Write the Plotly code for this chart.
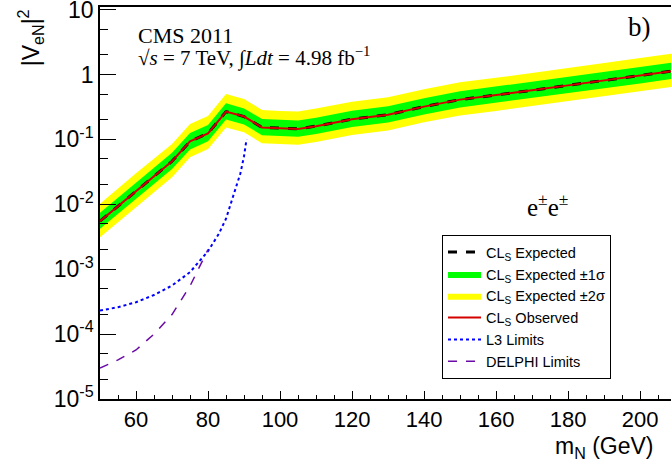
import plotly.graph_objects as go

# ---------------- data ----------------
masses = [50, 60, 70, 75, 80, 85, 90, 95, 100, 105, 110, 120, 130, 140, 150, 160, 170, 180, 190, 200, 210]
expected = [0.0055, 0.016, 0.046, 0.093, 0.124, 0.268, 0.225, 0.153, 0.148, 0.145, 0.16, 0.205, 0.24,
            0.32, 0.41, 0.48, 0.57, 0.68, 0.81, 0.96, 1.15]
observed = [0.0055, 0.016, 0.046, 0.093, 0.124, 0.268, 0.225, 0.153, 0.148, 0.145, 0.16, 0.205, 0.24,
            0.32, 0.41, 0.48, 0.57, 0.68, 0.81, 0.96, 1.15]
exp_p1 = [0.0074, 0.0216, 0.062, 0.126, 0.167, 0.36, 0.30, 0.207, 0.20, 0.196, 0.216, 0.277, 0.324,
          0.43, 0.55, 0.65, 0.77, 0.92, 1.09, 1.30, 1.55]
exp_m1 = [0.0042, 0.0121, 0.035, 0.070, 0.094, 0.203, 0.170, 0.116, 0.112, 0.110, 0.121, 0.155, 0.182,
          0.242, 0.31, 0.364, 0.43, 0.515, 0.614, 0.727, 0.871]
exp_p2 = [0.0102, 0.030, 0.085, 0.172, 0.229, 0.50, 0.42, 0.285, 0.275, 0.27, 0.30, 0.38, 0.445,
          0.59, 0.76, 0.89, 1.05, 1.26, 1.50, 1.78, 2.13]
exp_m2 = [0.0031, 0.0091, 0.026, 0.053, 0.071, 0.153, 0.129, 0.087, 0.085, 0.083, 0.091, 0.117, 0.137,
          0.183, 0.234, 0.274, 0.326, 0.389, 0.463, 0.549, 0.657]

l3_mass = [50, 55, 60, 65, 70, 75, 80, 83, 85, 87, 89, 90, 90.5, 90.7]
l3_limit = [2.3e-4, 2.6e-4, 3.1e-4, 4.0e-4, 5.6e-4, 9.0e-4, 1.9e-3, 3.5e-3, 6.0e-3, 1.3e-2, 3.0e-2,
            5.5e-2, 8.0e-2, 0.1]

delphi_mass = [50, 55, 60, 65, 70, 75, 78, 80]
delphi_limit = [3.0e-5, 4.0e-5, 5.7e-5, 1.0e-4, 2.0e-4, 5.5e-4, 1.2e-3, 2.0e-3]

y_tickvals = [1e-5, 1e-4, 1e-3, 1e-2, 1e-1, 1, 10]
y_ticktext = ["10<sup>-5</sup>", "10<sup>-4</sup>", "10<sup>-3</sup>", "10<sup>-2</sup>",
              "10<sup>-1</sup>", "1", "10"]
x_tickvals = [60, 80, 100, 120, 140, 160, 180, 200]

# ---------------- figure ----------------
SANS = "Liberation Sans, Arial, sans-serif"
SERIF = "Liberation Serif, Times New Roman, serif"

fig = go.Figure()

fig.add_trace(go.Scatter(
    x=masses + masses[::-1], y=exp_p2 + exp_m2[::-1],
    fill="toself", fillcolor="#ffff00", line=dict(width=0, color="#ffff00"),
    mode="lines", name="CL<sub>S</sub> Expected ±2σ", legendrank=3, hoverinfo="skip"))
fig.add_trace(go.Scatter(
    x=masses + masses[::-1], y=exp_p1 + exp_m1[::-1],
    fill="toself", fillcolor="#00ff00", line=dict(width=0, color="#00ff00"),
    mode="lines", name="CL<sub>S</sub> Expected ±1σ", legendrank=2, hoverinfo="skip"))
fig.add_trace(go.Scatter(
    x=masses, y=expected, mode="lines", line=dict(color="black", width=3, dash="dash"),
    name="CL<sub>S</sub> Expected", legendrank=1))
fig.add_trace(go.Scatter(
    x=masses, y=observed, mode="lines", line=dict(color="#d40000", width=2),
    name="CL<sub>S</sub> Observed", legendrank=4))
fig.add_trace(go.Scatter(
    x=l3_mass, y=l3_limit, mode="lines", line=dict(color="#0000ff", width=2, dash="dot"),
    name="L3 Limits", legendrank=5))
fig.add_trace(go.Scatter(
    x=delphi_mass, y=delphi_limit, mode="lines", line=dict(color="#6a0aa8", width=1.5, dash="dash"),
    name="DELPHI Limits", legendrank=6))

fig.update_layout(
    width=671, height=467,
    margin=dict(l=100, r=0, t=7, b=68, autoexpand=False),
    paper_bgcolor="white", plot_bgcolor="white",
    font=dict(family=SANS, color="black"),
    showlegend=True,
    legend=dict(
        x=0.599, y=0.418, xanchor="left", yanchor="top",
        bgcolor="white", bordercolor="black", borderwidth=1,
        font=dict(family=SANS, size=14.5, color="black"),
        itemwidth=33, tracegroupgap=0,
    ),
    xaxis=dict(
        range=[50, 208.6], showgrid=False, zeroline=False, automargin=False,
        showline=True, linecolor="black", linewidth=1.5, mirror=True,
        ticks="inside", ticklen=8, tickwidth=1.2, tickcolor="black",
        tickvals=x_tickvals, tickfont=dict(family=SANS, size=22),
        ticklabeloverflow="allow",
        minor=dict(ticks="inside", ticklen=4, tickwidth=1, tickcolor="black", dtick=5, tick0=50),
    ),
    yaxis=dict(
        type="log", range=[-5, 1.04], showgrid=False, zeroline=False, automargin=False,
        showline=True, linecolor="black", linewidth=1.5, mirror=True,
        ticks="inside", ticklen=16, tickwidth=1.2, tickcolor="black",
        tickvals=y_tickvals, ticktext=y_ticktext, tickfont=dict(family=SANS, size=23),
        ticklabeloverflow="allow",
        minor=dict(ticks="inside", ticklen=8, tickwidth=1, tickcolor="black"),
    ),
)

fig.add_annotation(xref="paper", yref="paper", x=-0.123, y=1.0, xanchor="center", yanchor="top",
                   text="|V<sub>eN</sub>|<sup>2</sup>", textangle=-90, showarrow=False,
                   font=dict(family=SANS, size=23))
fig.add_annotation(xref="paper", yref="paper", x=0.973, y=-0.123, xanchor="right", yanchor="middle",
                   text="m<sub>N</sub> (GeV)", showarrow=False, font=dict(family=SANS, size=23))
fig.add_annotation(xref="paper", yref="paper", x=0.063, y=0.928, xanchor="left", yanchor="middle",
                   text="CMS 2011", showarrow=False, font=dict(family=SERIF, size=22))
fig.add_annotation(xref="paper", yref="paper", x=0.063, y=0.872, xanchor="left", yanchor="middle",
                   text="√<i>s</i> = 7 TeV, ∫<i>Ldt</i> = 4.98 fb<sup>−1</sup>",
                   showarrow=False, font=dict(family=SERIF, size=21))
fig.add_annotation(xref="paper", yref="paper", x=0.945, y=0.95, xanchor="center", yanchor="middle",
                   text="b)", showarrow=False, font=dict(family=SERIF, size=27))
fig.add_annotation(xref="paper", yref="paper", x=0.783, y=0.495, xanchor="center", yanchor="middle",
                   text="e<sup>±</sup>e<sup>±</sup>", showarrow=False, font=dict(family=SERIF, size=25))

fig.write_html("out.html", config={"displayModeBar": False},
               post_script="document.body.style.margin='0';document.body.style.overflow='hidden';")
